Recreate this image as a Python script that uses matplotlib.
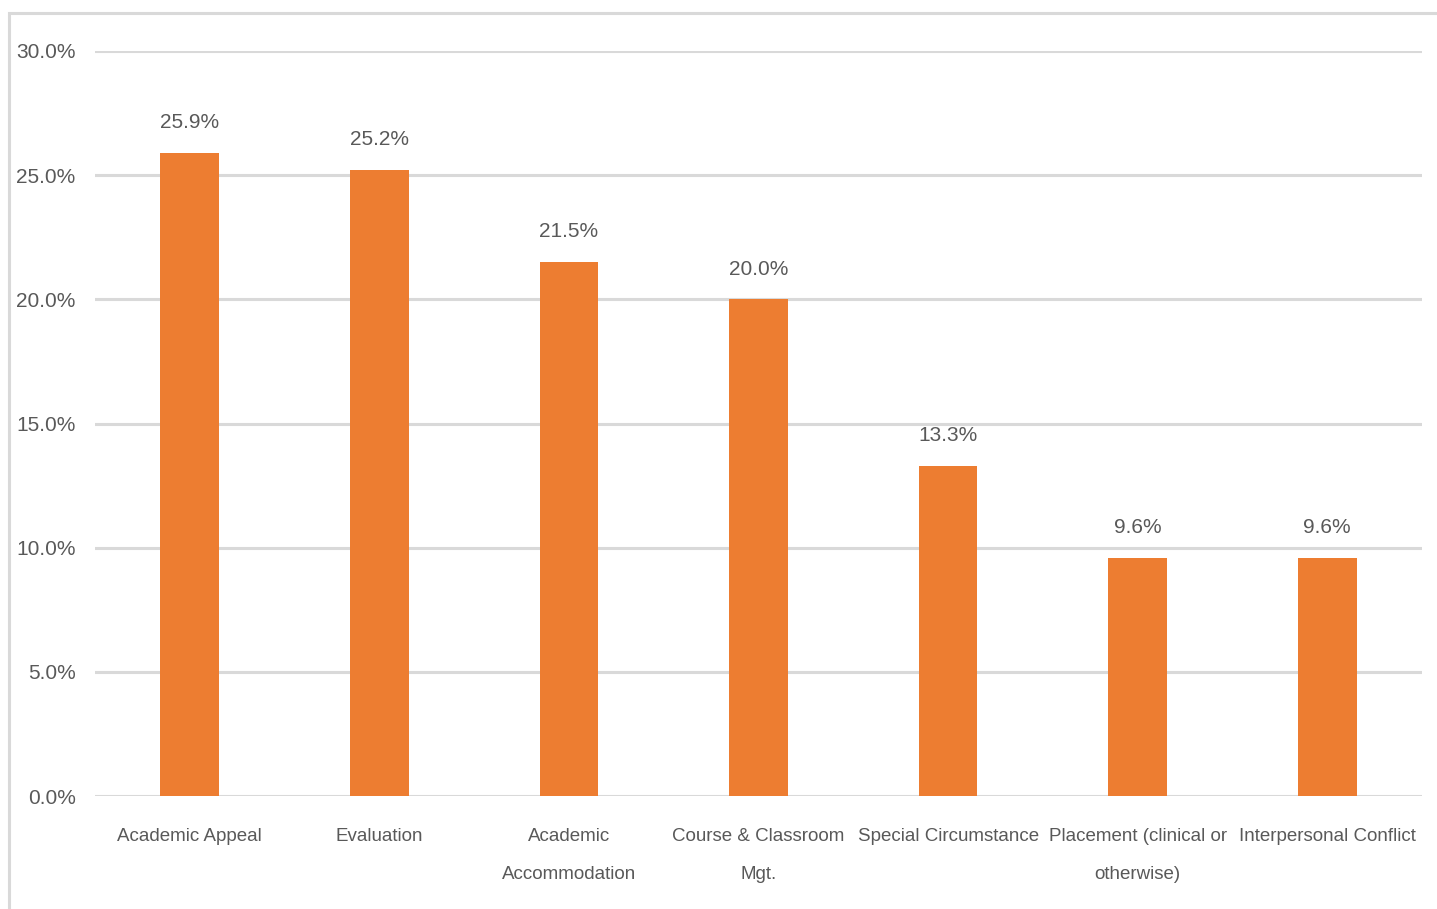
import matplotlib
matplotlib.use('Agg')
import matplotlib.pyplot as plt
from matplotlib.patches import Rectangle
from matplotlib.ticker import FuncFormatter

ORNG = '#ed7d31'
GRID = '#d9d9d9'
TEXT = '#595959'

categories = ["Academic Appeal", "Evaluation", "Academic\nAccommodation",
              "Course & Classroom\nMgt.", "Special Circumstance",
              "Placement (clinical or\notherwise)", "Interpersonal Conflict"]
values = [25.9, 25.2, 21.5, 20.0, 13.3, 9.6, 9.6]
yticks = [0, 5, 10, 15, 20, 25, 30]

plt.rcParams['font.family'] = ['Liberation Sans', 'DejaVu Sans']

fig = plt.figure(figsize=(14.37, 9.09), dpi=100)
ax = fig.add_axes([0.0661, 0.1243, 0.9235, 0.8196])

x = range(len(categories))
bars = ax.bar(x, values, width=0.31, color=ORNG, zorder=3)
for b, v in zip(bars, values):
    ax.annotate(f"{v:.1f}%", (b.get_x() + b.get_width() / 2, v),
                xytext=(0, 15), textcoords='offset points',
                ha='center', va='bottom', fontsize=15, color=TEXT)

ax.set_xlim(-0.5, len(categories) - 0.5)
ax.set_ylim(0, 30)
ax.set_yticks(yticks)
ax.yaxis.set_major_formatter(FuncFormatter(lambda v, p: f"{v:.1f}%"))
ax.grid(axis='y', color=GRID, linewidth=2.2, zorder=0)
ax.set_xticks(list(x))
ax.set_xticklabels(categories, linespacing=2.65)
ax.tick_params(axis='both', length=0, labelsize=15, colors=TEXT)
ax.tick_params(axis='x', labelsize=13.5)
ax.tick_params(axis='y', pad=14)
ax.tick_params(axis='x', pad=23)
for s in ax.spines.values():
    s.set_visible(False)

fig.patches.append(Rectangle((0.0063, -0.01), 1.0, 0.9957, transform=fig.transFigure,
                             fill=False, edgecolor=GRID, linewidth=2.2))

fig.savefig('out.png', dpi=100)
